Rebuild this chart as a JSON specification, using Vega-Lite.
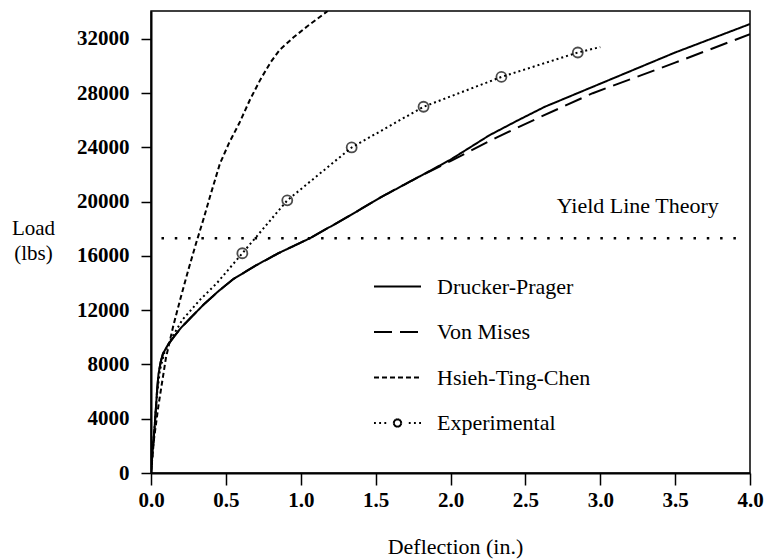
{
  "$schema": "https://vega.github.io/schema/vega-lite/v6.json",
  "width": 599,
  "height": 462,
  "autosize": {"type": "none"},
  "padding": {"left": 151, "top": 11, "right": 14, "bottom": 87},
  "background": "white",
  "config": {
    "view": {"stroke": "black", "strokeWidth": 1.5},
    "axis": {
      "grid": false,
      "domainColor": "black",
      "domainWidth": 2,
      "tickColor": "black",
      "tickWidth": 1.5,
      "labelFont": "Liberation Serif",
      "labelFontWeight": "bold",
      "labelFontSize": 21,
      "labelColor": "black",
      "titleFont": "Liberation Serif",
      "titleFontWeight": "normal",
      "titleFontSize": 21,
      "titleColor": "black"
    },
    "legend": {
      "orient": "none",
      "legendX": 222,
      "legendY": 251,
      "symbolType": "stroke",
      "symbolSize": 2209,
      "symbolStrokeWidth": 2,
      "symbolStrokeColor": "black",
      "labelFont": "Liberation Serif",
      "labelFontSize": 22,
      "labelColor": "black",
      "labelOffset": 15,
      "rowPadding": 9.5,
      "labelLimit": 300
    }
  },
  "datasets": {
    "curves": [
      {"series": "Drucker-Prager", "x": 0, "y": 0},
      {"series": "Drucker-Prager", "x": 0.01, "y": 1500},
      {"series": "Drucker-Prager", "x": 0.02, "y": 2800},
      {"series": "Drucker-Prager", "x": 0.03, "y": 4300},
      {"series": "Drucker-Prager", "x": 0.04, "y": 6000},
      {"series": "Drucker-Prager", "x": 0.05, "y": 7300},
      {"series": "Drucker-Prager", "x": 0.065, "y": 8200},
      {"series": "Drucker-Prager", "x": 0.08, "y": 8800},
      {"series": "Drucker-Prager", "x": 0.11, "y": 9400},
      {"series": "Drucker-Prager", "x": 0.15, "y": 10000},
      {"series": "Drucker-Prager", "x": 0.2, "y": 10700},
      {"series": "Drucker-Prager", "x": 0.27, "y": 11500},
      {"series": "Drucker-Prager", "x": 0.35, "y": 12400},
      {"series": "Drucker-Prager", "x": 0.45, "y": 13400},
      {"series": "Drucker-Prager", "x": 0.55, "y": 14300},
      {"series": "Drucker-Prager", "x": 0.7, "y": 15300},
      {"series": "Drucker-Prager", "x": 0.85, "y": 16200},
      {"series": "Drucker-Prager", "x": 1.06, "y": 17300},
      {"series": "Drucker-Prager", "x": 1.3, "y": 18800},
      {"series": "Drucker-Prager", "x": 1.53, "y": 20300},
      {"series": "Drucker-Prager", "x": 1.8, "y": 21900},
      {"series": "Drucker-Prager", "x": 2.0, "y": 23100},
      {"series": "Drucker-Prager", "x": 2.26, "y": 24900},
      {"series": "Drucker-Prager", "x": 2.45, "y": 26000},
      {"series": "Drucker-Prager", "x": 2.63, "y": 27000},
      {"series": "Drucker-Prager", "x": 3.0, "y": 28700},
      {"series": "Drucker-Prager", "x": 3.5, "y": 31000},
      {"series": "Drucker-Prager", "x": 4.0, "y": 33100},
      {"series": "Von Mises", "x": 0, "y": 0},
      {"series": "Von Mises", "x": 0.01, "y": 1500},
      {"series": "Von Mises", "x": 0.02, "y": 2800},
      {"series": "Von Mises", "x": 0.03, "y": 4300},
      {"series": "Von Mises", "x": 0.04, "y": 6000},
      {"series": "Von Mises", "x": 0.05, "y": 7300},
      {"series": "Von Mises", "x": 0.065, "y": 8200},
      {"series": "Von Mises", "x": 0.08, "y": 8800},
      {"series": "Von Mises", "x": 0.11, "y": 9400},
      {"series": "Von Mises", "x": 0.15, "y": 10000},
      {"series": "Von Mises", "x": 0.2, "y": 10700},
      {"series": "Von Mises", "x": 0.27, "y": 11500},
      {"series": "Von Mises", "x": 0.35, "y": 12400},
      {"series": "Von Mises", "x": 0.45, "y": 13400},
      {"series": "Von Mises", "x": 0.55, "y": 14300},
      {"series": "Von Mises", "x": 0.7, "y": 15300},
      {"series": "Von Mises", "x": 0.85, "y": 16200},
      {"series": "Von Mises", "x": 1.06, "y": 17300},
      {"series": "Von Mises", "x": 1.3, "y": 18800},
      {"series": "Von Mises", "x": 1.53, "y": 20300},
      {"series": "Von Mises", "x": 1.8, "y": 21900},
      {"series": "Von Mises", "x": 2.0, "y": 23000},
      {"series": "Von Mises", "x": 2.31, "y": 24750},
      {"series": "Von Mises", "x": 2.6, "y": 26250},
      {"series": "Von Mises", "x": 2.95, "y": 28000},
      {"series": "Von Mises", "x": 3.5, "y": 30250},
      {"series": "Von Mises", "x": 4.0, "y": 32350},
      {"series": "Hsieh-Ting-Chen", "x": 0, "y": 0},
      {"series": "Hsieh-Ting-Chen", "x": 0.02, "y": 2500},
      {"series": "Hsieh-Ting-Chen", "x": 0.05, "y": 5000},
      {"series": "Hsieh-Ting-Chen", "x": 0.1, "y": 8500},
      {"series": "Hsieh-Ting-Chen", "x": 0.15, "y": 10900},
      {"series": "Hsieh-Ting-Chen", "x": 0.2, "y": 13000},
      {"series": "Hsieh-Ting-Chen", "x": 0.25, "y": 15000},
      {"series": "Hsieh-Ting-Chen", "x": 0.3, "y": 16900},
      {"series": "Hsieh-Ting-Chen", "x": 0.35, "y": 18700},
      {"series": "Hsieh-Ting-Chen", "x": 0.4, "y": 20600},
      {"series": "Hsieh-Ting-Chen", "x": 0.46, "y": 22800},
      {"series": "Hsieh-Ting-Chen", "x": 0.52, "y": 24300},
      {"series": "Hsieh-Ting-Chen", "x": 0.59, "y": 25800},
      {"series": "Hsieh-Ting-Chen", "x": 0.66, "y": 27500},
      {"series": "Hsieh-Ting-Chen", "x": 0.73, "y": 29000},
      {"series": "Hsieh-Ting-Chen", "x": 0.8, "y": 30300},
      {"series": "Hsieh-Ting-Chen", "x": 0.86, "y": 31200},
      {"series": "Hsieh-Ting-Chen", "x": 0.95, "y": 32100},
      {"series": "Hsieh-Ting-Chen", "x": 1.04, "y": 32900},
      {"series": "Hsieh-Ting-Chen", "x": 1.18, "y": 34060},
      {"series": "Experimental", "x": 0, "y": 0},
      {"series": "Experimental", "x": 0.01, "y": 1500},
      {"series": "Experimental", "x": 0.025, "y": 3500},
      {"series": "Experimental", "x": 0.04, "y": 5800},
      {"series": "Experimental", "x": 0.06, "y": 7600},
      {"series": "Experimental", "x": 0.09, "y": 8900},
      {"series": "Experimental", "x": 0.14, "y": 10000},
      {"series": "Experimental", "x": 0.21, "y": 11300},
      {"series": "Experimental", "x": 0.33, "y": 12800},
      {"series": "Experimental", "x": 0.44, "y": 14000},
      {"series": "Experimental", "x": 0.61, "y": 16200},
      {"series": "Experimental", "x": 0.91, "y": 20100},
      {"series": "Experimental", "x": 1.34, "y": 24000},
      {"series": "Experimental", "x": 1.82, "y": 27000},
      {"series": "Experimental", "x": 2.34, "y": 29200},
      {"series": "Experimental", "x": 2.85, "y": 31000},
      {"series": "Experimental", "x": 3.0, "y": 31400}
    ],
    "measured": [
      {"x": 0.61, "y": 16200},
      {"x": 0.91, "y": 20100},
      {"x": 1.34, "y": 24000},
      {"x": 1.82, "y": 27000},
      {"x": 2.34, "y": 29200},
      {"x": 2.85, "y": 31000}
    ],
    "yield": [
      {"x": 0.07, "x2": 3.93, "y": 17300}
    ],
    "notes": [
      {"x": 3.25, "y": 19170, "text": "Yield Line Theory"}
    ]
  },
  "layer": [
    {
      "data": {"name": "curves"},
      "mark": {"type": "line", "strokeWidth": 2, "color": "black", "clip": true},
      "encoding": {
        "x": {
          "field": "x",
          "type": "quantitative",
          "scale": {"domain": [0, 4], "nice": false},
          "axis": {
            "values": [0, 0.5, 1, 1.5, 2, 2.5, 3, 3.5, 4],
            "format": ".1f",
            "tickSize": 12,
            "labelPadding": 4,
            "labelFlush": false,
            "title": "Deflection (in.)",
            "titleFontSize": 22,
            "titleX": 304,
            "titleY": 80,
            "titleAlign": "center",
            "titleBaseline": "alphabetic"
          }
        },
        "y": {
          "field": "y",
          "type": "quantitative",
          "scale": {"domain": [0, 34060], "nice": false},
          "axis": {
            "values": [0, 4000, 8000, 12000, 16000, 20000, 24000, 28000, 32000],
            "format": "d",
            "tickSize": 10,
            "labelPadding": 12,
            "title": ["Load", "(lbs)"],
            "titleAngle": 0,
            "titleX": -118,
            "titleY": 223,
            "titleAlign": "center",
            "titleBaseline": "alphabetic",
            "titleLineHeight": 25
          }
        },
        "strokeDash": {
          "field": "series",
          "type": "nominal",
          "scale": {
            "domain": ["Drucker-Prager", "Von Mises", "Hsieh-Ting-Chen", "Experimental"],
            "range": [[1, 0], [18, 8], [5, 3], [2, 3]]
          },
          "legend": {
            "title": null,
            "encode": {
              "symbols": {
                "update": {
                  "shape": {"signal": "datum.value === 'Experimental' ? 'M-1,0h0.08M-0.78,0h0.08M-0.56,0h0.08M0.16,0L0.1386,0.08M0.1386,0.08L0.08,0.1386M0.08,0.1386L0,0.16M0,0.16L-0.08,0.1386M-0.08,0.1386L-0.1386,0.08M-0.1386,0.08L-0.16,0M-0.16,0L-0.1386,-0.08M-0.1386,-0.08L-0.08,-0.1386M-0.08,-0.1386L0,-0.16M0,-0.16L0.08,-0.1386M0.08,-0.1386L0.1386,-0.08M0.1386,-0.08L0.16,0M0.48,0h0.08M0.7,0h0.08M0.92,0h0.08' : 'stroke'"}
                }
              }
            }
          }
        }
      }
    },
    {
      "data": {"name": "measured"},
      "mark": {"type": "point", "shape": "circle", "filled": false, "size": 100, "strokeWidth": 1.8, "color": "black"},
      "encoding": {
        "x": {"field": "x", "type": "quantitative"},
        "y": {"field": "y", "type": "quantitative"}
      }
    },
    {
      "data": {"name": "yield"},
      "mark": {"type": "rule", "strokeDash": [2.5, 10.8], "strokeWidth": 2.5, "color": "black"},
      "encoding": {
        "x": {"field": "x", "type": "quantitative"},
        "x2": {"field": "x2"},
        "y": {"field": "y", "type": "quantitative"}
      }
    },
    {
      "data": {"name": "notes"},
      "mark": {"type": "text", "font": "Liberation Serif", "fontSize": 22, "align": "center", "baseline": "alphabetic", "color": "black"},
      "encoding": {
        "x": {"field": "x", "type": "quantitative"},
        "y": {"field": "y", "type": "quantitative"},
        "text": {"field": "text"}
      }
    }
  ]
}
